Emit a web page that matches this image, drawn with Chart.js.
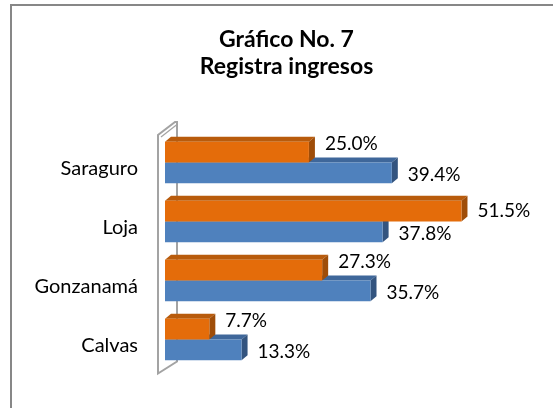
<!DOCTYPE html>
<html><head><meta charset="utf-8">
<script src="https://cdn.jsdelivr.net/npm/chart.js@4"></script>
<style>html,body{margin:0;padding:0;background:#fff;overflow:hidden}canvas{display:block}</style>
</head><body>
<canvas id="c" width="553" height="408"></canvas>
<script>
const categories = ['Saraguro', 'Loja', 'Gonzanamá', 'Calvas'];
const seriesOrange = [25.0, 51.5, 27.3, 7.7];
const seriesBlue = [39.4, 37.8, 35.7, 13.3];
const titleLines = ['Gráfico No. 7', 'Registra ingresos'];

const DX = 6, DY = 5, LABEL_GAP = 16;
const faceColors = [
  {top: '#B85B0C', side: '#9F4D08'},
  {top: '#3F679A', side: '#33547F'}
];

const frame = {
  id: 'frame',
  beforeDraw(chart) {
    const ctx = chart.ctx;
    ctx.save();
    ctx.strokeStyle = '#878787';
    ctx.lineWidth = 2;
    ctx.strokeRect(11, 5, 620, 500);
    ctx.restore();
  }
};

const wall = {
  id: 'wall',
  beforeDatasetsDraw(chart) {
    const a = chart.chartArea, ctx = chart.ctx;
    const fx = a.left - 7, bx = a.left + 12;
    const ft = a.top + 2, bt = a.top - 11;
    const fb = a.bottom + 4.5, bb = a.bottom - 7.5;
    ctx.save();
    ctx.strokeStyle = '#A3A3A3';
    ctx.lineWidth = 2;
    ctx.fillStyle = '#fff';
    ctx.beginPath();
    ctx.moveTo(fx, fb); ctx.lineTo(fx, ft); ctx.lineTo(bx - 2, bt); ctx.lineTo(bx, bt);
    ctx.lineTo(bx, bb); ctx.lineTo(fx, fb); ctx.closePath();
    ctx.fill(); ctx.stroke();
    ctx.lineWidth = 1.2;
    ctx.beginPath();
    ctx.moveTo(fx + 3, ft + 2); ctx.lineTo(bx, bt + 2.5);
    ctx.stroke();
    ctx.restore();
  }
};

const bar3d = {
  id: 'bar3d',
  beforeDatasetsDraw(chart) {
    const ctx = chart.ctx;
    ctx.save();
    for (let d = chart.data.datasets.length - 1; d >= 0; d--) {
      const meta = chart.getDatasetMeta(d);
      meta.data.forEach(el => {
        const p = el.getProps(['x', 'y', 'base', 'height'], true);
        const y0 = p.y - p.height / 2, y1 = p.y + p.height / 2;
        ctx.fillStyle = faceColors[d].top;
        ctx.beginPath();
        ctx.moveTo(p.base, y0); ctx.lineTo(p.base + DX, y0 - DY);
        ctx.lineTo(p.x + DX, y0 - DY); ctx.lineTo(p.x, y0); ctx.closePath(); ctx.fill();
        ctx.fillStyle = faceColors[d].side;
        ctx.beginPath();
        ctx.moveTo(p.x, y0); ctx.lineTo(p.x + DX, y0 - DY);
        ctx.lineTo(p.x + DX, y1 - DY); ctx.lineTo(p.x, y1); ctx.closePath(); ctx.fill();
      });
    }
    ctx.restore();
  }
};

const valueLabels = {
  id: 'valueLabels',
  afterDatasetsDraw(chart) {
    const ctx = chart.ctx;
    ctx.save();
    ctx.font = '19px Lato';
    ctx.fillStyle = '#000';
    ctx.textAlign = 'left';
    ctx.textBaseline = 'middle';
    const metas = chart.data.datasets.map((_, i) => chart.getDatasetMeta(i));
    metas.forEach((meta, d) => {
      meta.data.forEach((el, i) => {
        const v = chart.data.datasets[d].data[i];
        const text = v.toFixed(1) + '%';
        const lx = el.x + LABEL_GAP;
        let ly;
        if (d < metas.length - 1) {
          const next = metas[d + 1].data[i];
          ly = (next.x + DX > lx) ? el.y - 8.5 : el.y;
        } else {
          ly = el.y + 2;
        }
        ctx.fillText(text, lx, ly);
      });
    });
    ctx.restore();
  }
};

function build() {
  new Chart(document.getElementById('c'), {
    type: 'bar',
    data: {
      labels: categories,
      datasets: [
        {data: seriesOrange, backgroundColor: '#E46C0A', borderWidth: 0, categoryPercentage: 0.7, barPercentage: 1.0},
        {data: seriesBlue, backgroundColor: '#4F81BD', borderWidth: 0, categoryPercentage: 0.7, barPercentage: 1.0}
      ]
    },
    options: {
      indexAxis: 'y',
      responsive: false,
      animation: false,
      layout: {padding: {left: 20, right: 0, top: 0, bottom: 36.5}},
      plugins: {
        legend: {display: false},
        tooltip: {enabled: false},
        title: {
          display: true,
          text: titleLines,
          color: '#000',
          font: {family: 'Lato', size: 23, weight: 'bold', lineHeight: '27px'},
          padding: {top: 26, bottom: 53}
        }
      },
      scales: {
        x: {display: false, min: 0, max: 67.4},
        y: {
          grid: {display: false, drawTicks: false},
          border: {display: false},
          ticks: {color: '#000', font: {family: 'Lato', size: 20}, padding: 27, labelOffset: 6.5},
          afterFit(scale) { scale.width = 145; }
        }
      }
    },
    plugins: [frame, wall, bar3d, valueLabels]
  });
}
if (document.fonts && document.fonts.load) {
  Promise.all([document.fonts.load('20px Lato'), document.fonts.load('bold 23px Lato')]).then(build, build);
} else { build(); }
</script>
</body></html>
